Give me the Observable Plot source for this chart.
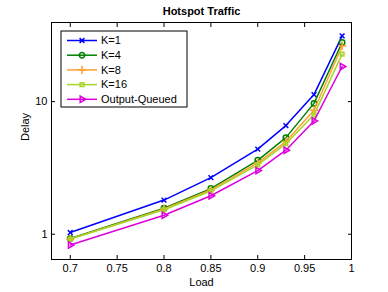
<!DOCTYPE html>
<html>
<head>
<meta charset="utf-8">
<script src="https://cdn.jsdelivr.net/npm/d3@7"></script>
<script src="https://cdn.jsdelivr.net/npm/@observablehq/plot@0.6"></script>
<style>
  html, body { margin: 0; padding: 0; background: #fff; }
</style>
</head>
<body>
<div id="chart"></div>
<script>
// ---- data ----
const loads = [0.7, 0.8, 0.85, 0.9, 0.93, 0.96, 0.99];
const seriesNames = ["K=1", "K=4", "K=8", "K=16", "Output-Queued"];
const delayK1  = [1.03, 1.81, 2.67, 4.38, 6.6, 11.3, 31.3];
const delayK4  = [0.93, 1.57, 2.21, 3.61, 5.35, 9.7, 27.9];
const delayK8  = [0.92, 1.55, 2.16, 3.45, 5.0, 8.6, 26.3];
const delayK16 = [0.92, 1.53, 2.12, 3.33, 4.82, 7.95, 22.8];
const delayOQ  = [0.83, 1.39, 1.95, 3.02, 4.3, 7.15, 18.4];
const xTicks = [0.7, 0.75, 0.8, 0.85, 0.9, 0.95, 1];
const xTickLabels = ["0.7", "0.75", "0.8", "0.85", "0.9", "0.95", "1"];
const yTicks = [1, 10];
const yTickLabels = ["1", "10"];
const titleText = "Hotspot Traffic";
const xLabel = "Load";
const yLabel = "Delay";

// ---- styles ----
const colors  = ["#0000ff", "#008000", "#ffa033", "#a8d42a", "#dd00dd"];
const symbols = ["times", "circle", "plus", "square", "triangle2"];
const rotates = [0, 0, 0, 0, 90];
const radii   = [2.3, 2.7, 2.8, 2.1, 3.0];

const allSeries = [delayK1, delayK4, delayK8, delayK16, delayOQ];
const rows = [];
allSeries.forEach((vals, si) => vals.forEach((v, i) => rows.push({series: seriesNames[si], si, load: loads[i], delay: v})));

const W = 388, H = 292;
const mL = 51, mR = 37, mT = 22, mB = 33;
const fmtX = d => xTickLabels[xTicks.indexOf(d)] ?? "";
const fmtY = d => yTickLabels[yTicks.indexOf(d)] ?? "";

const marks = [
  Plot.frame({stroke: "#000", strokeWidth: 1}),
  Plot.axisX(xTicks, {anchor: "bottom", tickSize: 0, tickPadding: 5, tickFormat: fmtX, label: null, fontSize: 11}),
  Plot.axisX(xTicks, {anchor: "bottom", tickSize: -4, tickFormat: () => "", label: null}),
  Plot.axisX(xTicks, {anchor: "top", tickSize: -4, tickFormat: () => "", label: null}),
  Plot.axisY(yTicks, {anchor: "left", tickSize: 0, tickPadding: 4, tickFormat: fmtY, label: null, fontSize: 11}),
  Plot.axisY(yTicks, {anchor: "left", tickSize: -4, tickFormat: () => "", label: null}),
  Plot.axisY(yTicks, {anchor: "right", tickSize: -4, tickFormat: () => "", label: null}),
];
seriesNames.forEach((name, si) => {
  const data = rows.filter(r => r.si === si);
  marks.push(Plot.line(data, {x: "load", y: "delay", stroke: colors[si], strokeWidth: 1.5}));
  marks.push(Plot.dot(data, {x: "load", y: "delay", stroke: colors[si], fill: "none", strokeWidth: 1.5,
    symbol: symbols[si], r: radii[si], rotate: rotates[si]}));
});
marks.push(Plot.text([titleText], {frameAnchor: "top", lineAnchor: "middle", dy: -11.5, fontWeight: "bold", fontSize: 11, fill: "#000"}));
marks.push(Plot.text([xLabel], {frameAnchor: "bottom", lineAnchor: "middle", dy: 23, fontSize: 11, fill: "#000"}));
marks.push(Plot.text([yLabel], {frameAnchor: "left", lineAnchor: "middle", dx: -26, rotate: -90, fontSize: 11, fill: "#000"}));

const plot = Plot.plot({
  width: W, height: H,
  marginLeft: mL, marginRight: mR, marginTop: mT, marginBottom: mB,
  style: {fontFamily: "'Liberation Sans', Arial, Helvetica, sans-serif", fontSize: "11px", color: "#000", background: "#fff"},
  x: {domain: [0.68, 1]},
  y: {type: "log", domain: [0.645, 39.5]},
  marks
});
document.getElementById("chart").appendChild(plot);

// ---- legend (inside the axes, top-left) ----
const svg = d3.select(plot);
const lg = svg.append("g").attr("transform", `translate(${mL + 10},${mT + 9})`);
lg.append("rect").attr("x", 0).attr("y", 0).attr("width", 126).attr("height", 76)
  .attr("fill", "#fff").attr("stroke", "#000").attr("stroke-width", 1);
const symMap = {times: d3.symbolTimes, circle: d3.symbolCircle, plus: d3.symbolPlus, square: d3.symbolSquare, triangle2: d3.symbolTriangle2};
seriesNames.forEach((name, si) => {
  const y = 9.5 + si * 14.7;
  const g = lg.append("g").attr("transform", `translate(0,${y})`);
  g.append("line").attr("x1", 6).attr("x2", 36).attr("y1", 0).attr("y2", 0)
    .attr("stroke", colors[si]).attr("stroke-width", 1.5);
  g.append("path").attr("d", d3.symbol(symMap[symbols[si]], Math.PI * radii[si] * radii[si])())
    .attr("transform", `translate(21,0) rotate(${rotates[si]})`)
    .attr("fill", "none").attr("stroke", colors[si]).attr("stroke-width", 1.5);
  g.append("text").attr("x", 40).attr("y", 0).attr("dy", "0.35em")
    .attr("text-anchor", "start")
    .attr("font-size", 11).attr("fill", "#000").text(name);
});
</script>
</body>
</html>
